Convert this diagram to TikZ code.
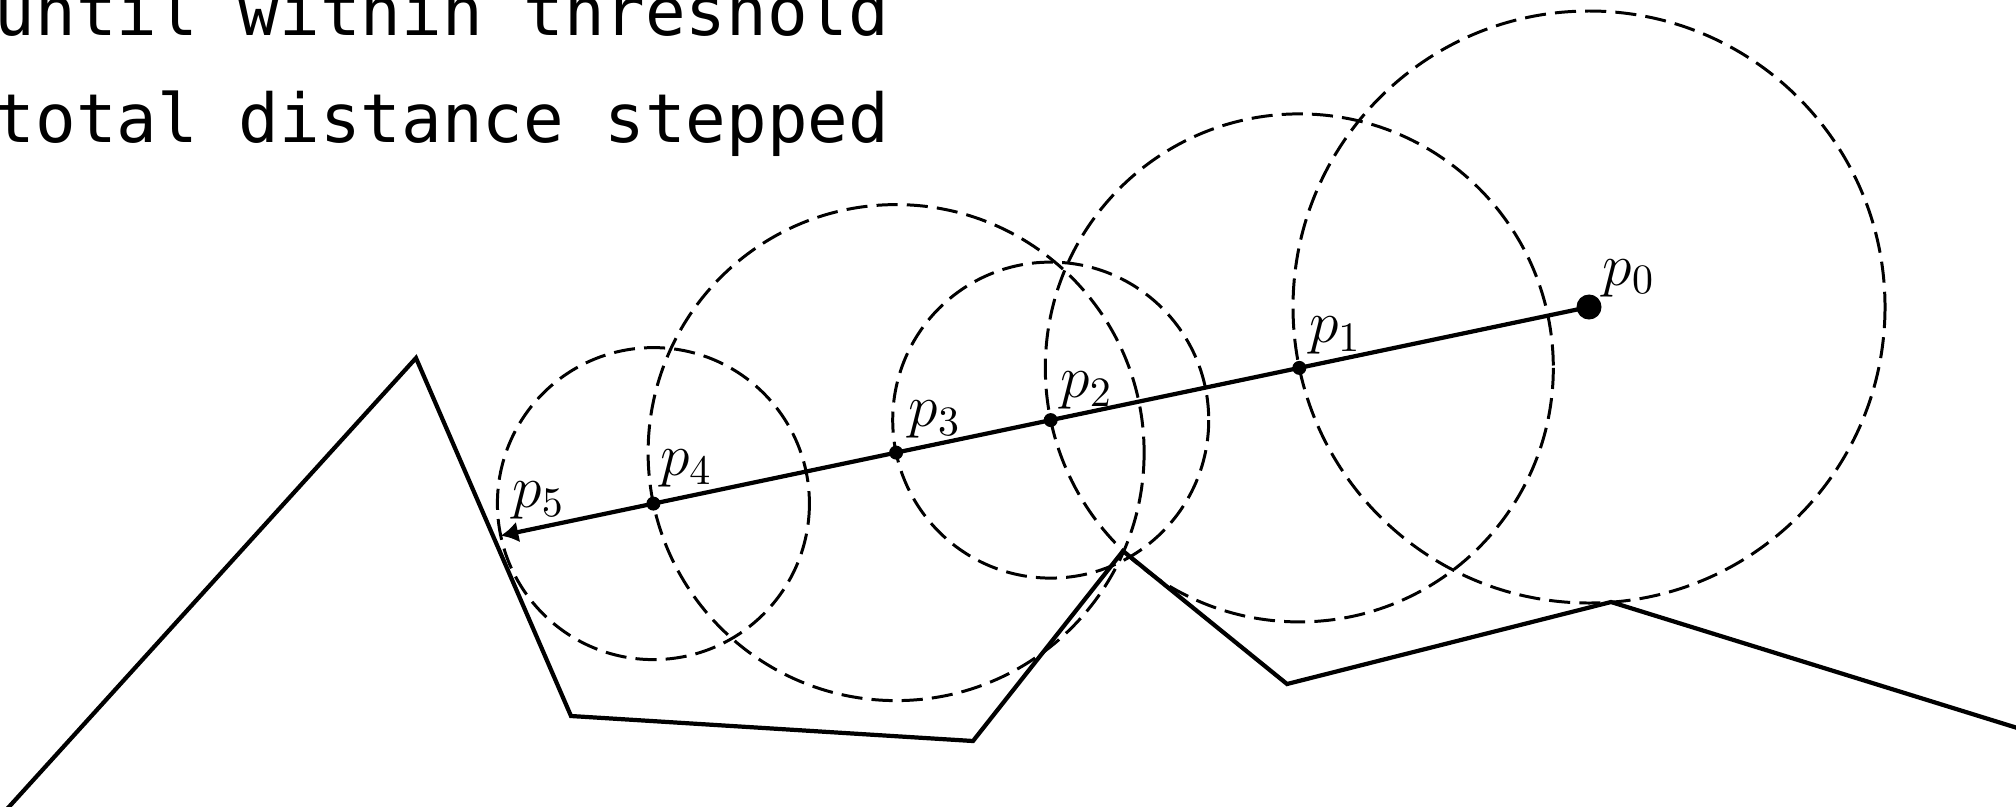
\documentclass[tikz,border=0pt]{standalone}
\usepackage{fix-cm}
\usepackage{fontspec}
\newfontfamily\codefont{DejaVu Sans Mono}
\usetikzlibrary{arrows.meta,calc,positioning}
\tikzset{
    every node/.style={font=\fontsize{17}{20}\selectfont},
    codeline/.style={font=\codefont\fontsize{19.2}{23}\selectfont,inner sep=0pt,anchor=base east},
    hitdot/.style={circle,fill=black,inner sep=0pt,minimum size=1.4mm},
    startdot/.style={circle,fill=black,inner sep=0pt,minimum size=2.5mm},
    steplabel/.style={inner sep=0pt,anchor=base west},
    probe/.style={line width=0.85pt,dash pattern=on 6pt off 2.6pt},
    terrain/.style={line width=1.2pt,line join=miter},
    ray/.style={line width=1.2pt,-{Latex[length=5pt,width=6pt]}}
}

\begin{document}
\begin{tikzpicture}[x=0.01cm,y=-0.01cm]
\useasboundingbox (0,0) rectangle (2016,806);

% text
\node[codeline] (cond) at (890,35) {until within threshold};
\node[codeline] (total) at (890,142) {total distance stepped};

% march points
\node[startdot] (p0) at (1589,307) {};
\node[hitdot] (p1) at (1299.3,367.9) {};
\node[hitdot] (p2) at (1050.7,420.1) {};
\node[hitdot] (p3) at (896.1,452.6) {};
\node[hitdot] (p4) at (653.4,503.6) {};
\coordinate (p5) at (500.7,535.7);

% distance circles
\draw[probe] (p0) circle[radius=296];
\draw[probe] (p1) circle[radius=254];
\draw[probe] (p2) circle[radius=158];
\draw[probe] (p3) circle[radius=248];
\draw[probe] (p4) circle[radius=156];

% terrain
\begin{scope}
\clip (0,0) rectangle (2016,806);
\draw[terrain] (-12,830) -- (416,358) -- (571,716) -- (973,741) -- (1123,551)
    -- (1287,684) -- (1611,602) -- (2040,735);
\end{scope}

\draw[ray] (p0.center) -- (p5);

% labels
\node[steplabel] (l0) at ($(p0)+(13,-22)$) {$p_0$};
\node[steplabel] (l1) at ($(p1)+(9,-25)$) {$p_1$};
\node[steplabel] (l2) at ($(p2)+(9,-23)$) {$p_2$};
\node[steplabel] (l3) at ($(p3)+(12,-26)$) {$p_3$};
\node[steplabel] (l4) at ($(p4)+(6,-28)$) {$p_4$};
\node[steplabel] (l5) at ($(p5)+(11,-28)$) {$p_5$};
\end{tikzpicture}
\end{document}
